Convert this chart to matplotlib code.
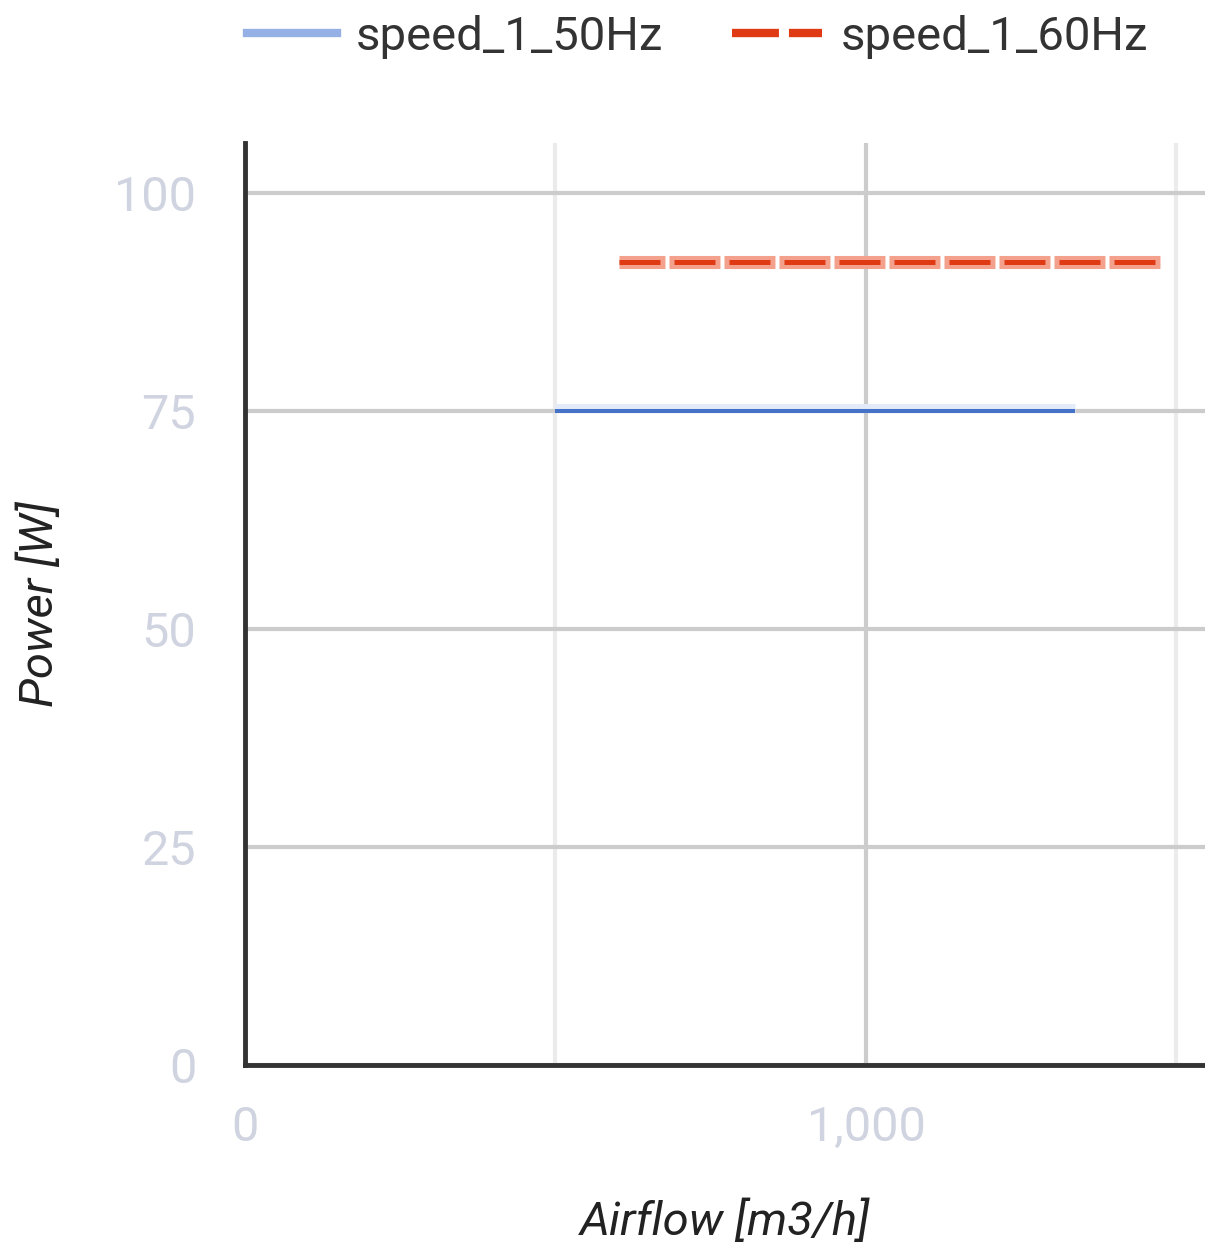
import matplotlib
matplotlib.use('Agg')
from matplotlib import pyplot as plt
from matplotlib.lines import Line2D
from matplotlib.ticker import FuncFormatter

plt.rcParams['font.family'] = ['Roboto', 'DejaVu Sans']
plt.rcParams['lines.scale_dashes'] = False

# data
series_names = ['speed_1_50Hz', 'speed_1_60Hz']
airflow_50 = [500, 1337]
power_50 = [75, 75]
airflow_60 = [602, 1473]
power_60 = [92, 92]

x_major = [0, 1000]
x_minor = [500, 1500]
y_ticks = [0, 25, 50, 75, 100]

blue = '#4572c9'
blue_light = '#94b0e4'
red = '#e03a14'
tick_color = '#d0d4e0'

fig = plt.figure(figsize=(12.05, 12.53), dpi=100)
ax = fig.add_axes([0.2033, 0.15, 0.7967, 0.7359])

# pale halos under the lines
ax.plot(airflow_50, [p + 0.29 for p in power_50], color='#e3eaf8', linewidth=6.5,
        solid_capstyle='butt', zorder=2)
ax.plot(airflow_60, power_60, color='#f3a08c', linewidth=9.4,
        linestyle=(3.6, (36.7, 2.9)), dash_capstyle='butt', zorder=2)
ax.plot(airflow_50, power_50, color=blue, linewidth=2.9, solid_capstyle='butt', zorder=3)
ax.plot(airflow_60, power_60, color=red, linewidth=3.6,
        linestyle=(0, (29.5, 10.1)), dash_capstyle='butt', zorder=3)

ax.set_xlim(0, 1546)
ax.set_ylim(0, 105.7)
ax.set_xticks(x_major)
ax.set_xticks(x_minor, minor=True)
ax.set_yticks(y_ticks)
ax.xaxis.set_major_formatter(FuncFormatter(lambda v, p: f'{int(v):,}'))
ax.tick_params(axis='both', which='both', length=0, colors=tick_color, labelsize=35)
ax.tick_params(axis='x', pad=29)
ax.tick_params(axis='y', pad=35)

ax.grid(which='major', color='#cccccc', linewidth=3)
ax.grid(which='minor', axis='x', color='#ebebeb', linewidth=3)
ax.set_axisbelow(True)

for s in ['top', 'right']:
    ax.spines[s].set_visible(False)
for s in ['left', 'bottom']:
    ax.spines[s].set_color('#333333')
    ax.spines[s].set_linewidth(3.5)
    ax.spines[s].set_zorder(4)

ax.set_xlabel('Airflow [m3/h]', fontsize=34, style='italic', color='#222222', labelpad=35)
ax.set_ylabel('Power [W]', fontsize=34, style='italic', color='#222222', labelpad=38)

handles = [
    Line2D([], [], color=blue_light, linewidth=6),
    Line2D([], [], color=red, linewidth=6, linestyle=(0, (33.8, 7.2))),
]
leg = fig.legend(handles, series_names, loc='upper left', bbox_to_anchor=(0.17, 1.022), ncol=2,
                 frameon=False, fontsize=34, handlelength=1.9, handletextpad=0.4, columnspacing=1.45)
for t in leg.get_texts():
    t.set_color('#333333')

plt.savefig('out.png', dpi=100)
plt.close()
